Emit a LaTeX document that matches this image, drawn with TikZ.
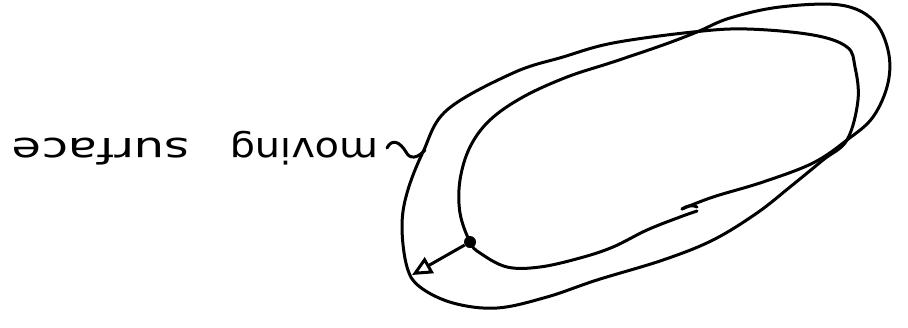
\documentclass[tikz,border=0pt]{standalone}
\usepackage{fontspec}
\setmainfont{DejaVu Sans}
\usetikzlibrary{arrows.meta}
\begin{document}
\begin{tikzpicture}[x=1pt,y=-1pt,
  pen/.style={line width=3pt, line cap=round, line join=round, black},
  handtext/.style={font=\fontsize{35}{40}\selectfont, rotate=180, anchor=base, inner sep=0pt}]
\useasboundingbox (0,0) rectangle (908,327);
% outer loop
\draw[pen] plot[smooth cycle, tension=0.6] coordinates {
 (423,152) (447,110) (513,73) (563,57) (613,43) (693,32) (747,29) (813,35) (847,47)
 (855,67) (858,100) (847,140) (823,160) (790,187) (757,213) (713,240) (663,260)
 (597,280) (547,297) (497,308) (453,303) (420,287) (407,267) (402,227) (407,193)};
% inner loop
\draw[pen] plot[smooth, tension=0.6] coordinates {
 (697,211) (680,217) (647,230) (613,247) (580,258) (540,267) (507,267) (480,253)
 (470,242) (460,213) (460,180) (470,147) (490,120) (523,97) (567,77) (613,62) (663,45)
 (697,32) (730,18) (780,7) (840,5) (873,20) (888,50) (888,83) (873,117) (847,140)
 (813,163) (763,182) (713,197) (682,209)};
\draw[pen] (682,209) .. controls (688,205) and (693,205) .. (697,207);
% wiggle
\coordinate (w0) at (387,148);
\coordinate (w1) at (425,150);
\draw[pen] (w0) .. controls (392,138) and (400,142) .. (406,152)
  .. controls (410,160) and (418,158) .. (w1);
% dot and arrow
\node[circle, fill=black, inner sep=0pt, minimum size=12pt] (dot) at (470,242) {};
\coordinate (tip) at (412,275);
\draw[line width=3pt, -{Triangle[open, length=20pt, width=18pt, line width=3pt]}] (dot) -- (tip);
% text (upside down)
\node[handtext, xscale=1.14] (moving) at (304,138) {moving};
\node[handtext, xscale=1.37] (surface) at (101,138) {surface};
\end{tikzpicture}
\end{document}
